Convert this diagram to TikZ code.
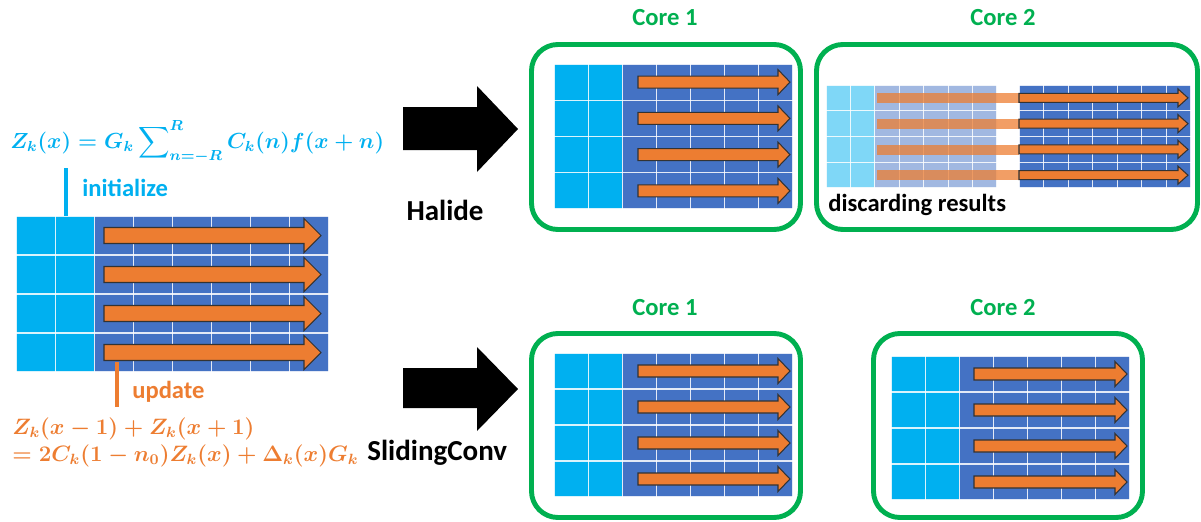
\documentclass[tikz,border=0pt]{standalone}
\usepackage{fontspec}
\usepackage{amsmath, bm, graphicx}
\usepackage{tikz}
\usetikzlibrary{positioning, calc}
\newfontfamily\labelfont{Carlito}
\definecolor{initcyan}{RGB}{0, 176, 240}
\definecolor{cellblue}{RGB}{68, 114, 196}
\definecolor{updorange}{RGB}{237, 125, 49}
\definecolor{coregreen}{RGB}{0, 176, 80}

% grid of cells: x0, y0, column width, row height, cyan columns, columns, rows, opacity
\newcommand{\cellgrid}[8]{%
  \begin{scope}[opacity=#8]
    \fill[initcyan] (#1,#2) rectangle ({#1+#5*#3},{#2+#7*#4});
    \fill[cellblue] ({#1+#5*#3},#2) rectangle ({#1+#6*#3},{#2+#7*#4});
    \foreach \c in {0,...,#6} \draw[cellline] ({#1+\c*#3},#2) -- ++(0,{#7*#4});
    \foreach \r in {0,...,#7} \draw[cellline] (#1,{#2+\r*#4}) -- ++({#6*#3},0);
  \end{scope}}
% row arrow: x start, x head, x tip, y, shaft half, head half
\newcommand{\flowarrow}[6]{%
  \filldraw[flow] (#1,{#4-#5}) -- (#2,{#4-#5}) -- (#2,{#4-#6}) -- (#3,#4)
    -- (#2,{#4+#6}) -- (#2,{#4+#5}) -- (#1,{#4+#5}) -- cycle;}

\begin{document}
\begin{tikzpicture}[x=0.02cm, y=-0.02cm,
  cellline/.style={draw=white, opacity=0.85, line width=0.6pt},
  flow/.style={fill=updorange, draw=black!80, line width=0.6pt},
  corebox/.style={draw=coregreen, line width=2.8pt, rounded corners=15pt},
  corelabel/.style={font=\labelfont\bfseries\fontsize{14}{16}\selectfont, text=coregreen, inner sep=0pt},
  bigtext/.style={font=\labelfont\bfseries\fontsize{16.5}{18}\selectfont, inner sep=0pt},
  bigarrow/.style={fill=black},
  eq/.style={anchor=base west, inner sep=0pt, font=\fontsize{12}{14}\selectfont\boldmath},
]
\useasboundingbox (0,0) rectangle (1201,521);

% Formulas
\node[eq, text=initcyan] (zinit) at (10,148)
{\scalebox{1.035}{$\displaystyle Z_k(x) = G_k \sum\nolimits_{n=-R}^{R} C_k(n) f(x+n)$}};
\node[eq, text=updorange] (zupdA) at (12,434)
{\scalebox{1.056}{$Z_k(x-1) + Z_k(x+1)$}};
\node[eq, text=updorange] (zupdB) at (12,461)
{\scalebox{1.056}{$= 2C_k(1-n_0)Z_k(x) + \Delta_k(x)G_k$}};

% Input grid
\cellgrid{16}{216}{39.1}{39}{2}{8}{4}{1}
\foreach \i in {0,...,3} {\flowarrow{104}{304}{321}{235.5+39*\i}{8}{17}}

% initialize / update
\coordinate (initTop) at (66,168);
\coordinate (initBot) at (66,216);
\draw[initcyan, line width=2.8pt] (initTop) -- (initBot);
\node[anchor=west, inner sep=0pt, text=initcyan,
      font=\labelfont\bfseries\fontsize{14}{16}\selectfont] (init) at (82,188) {initialize};
\coordinate (updTop) at (117,362);
\coordinate (updBot) at (117,407);
\draw[updorange, line width=2.8pt] (updTop) -- (updBot);
\node[anchor=west, inner sep=0pt, text=updorange,
      font=\labelfont\bfseries\fontsize{14}{16}\selectfont] (upd) at (132,392) {update};

% Big arrows
\fill[bigarrow] (403,107) -- (477,107) -- (477,86) -- (518,129) -- (477,172) -- (477,150) -- (403,150) -- cycle;
\fill[bigarrow] (403,368) -- (477,368) -- (477,347) -- (518,389) -- (477,431) -- (477,408) -- (403,408) -- cycle;
\node[bigtext] (halide) at (445,210) {Halide};
\node[bigtext, anchor=base west] (sliding) at (367,460) {SlidingConv};

% Halide, core 1
\node[corelabel] (hc1) at (665,18) {Core 1};
\draw[corebox] (531.5,44.5) rectangle (800.5,229.5);
\cellgrid{554}{64}{34.14}{36.25}{2}{7}{4}{1}
\foreach \i in {0,...,3} {\flowarrow{638}{778}{790}{82.1+36.25*\i}{6}{12.5}}

% Halide, core 2
\node[corelabel] (hc2) at (1003,18) {Core 2};
\draw[corebox] (816.5,44.5) rectangle (1197.5,229.5);
\cellgrid{826}{85}{24.43}{25.75}{2}{7}{4}{0.5}
\cellgrid{1019}{85}{24.57}{25.75}{0}{7}{4}{1}
\foreach \i in {0,...,3} {
  \fill[updorange, opacity=0.75] (877,{93+25.75*\i}) rectangle (1019,{103+25.75*\i});
  \flowarrow{1019}{1178}{1188}{97.9+25.75*\i}{4.5}{9}}
\node[anchor=west, inner sep=0pt,
      font=\labelfont\bfseries\fontsize{14}{16}\selectfont] (disc) at (828,205) {discarding results};

% SlidingConv, core 1
\node[corelabel] (sc1) at (665,308) {Core 1};
\draw[corebox] (531.5,333.5) rectangle (800.5,517.5);
\cellgrid{554}{353}{34.14}{36}{2}{7}{4}{1}
\foreach \i in {0,...,3} {\flowarrow{638}{778}{790}{371+36*\i}{6}{12.5}}

% SlidingConv, core 2
\node[corelabel] (sc2) at (1003,308) {Core 2};
\draw[corebox] (873.5,333.5) rectangle (1142.5,517.5);
\cellgrid{891}{356}{34.14}{36}{2}{7}{4}{1}
\foreach \i in {0,...,3} {\flowarrow{974}{1115}{1127}{374+36*\i}{6}{12.5}}
\end{tikzpicture}
\end{document}
